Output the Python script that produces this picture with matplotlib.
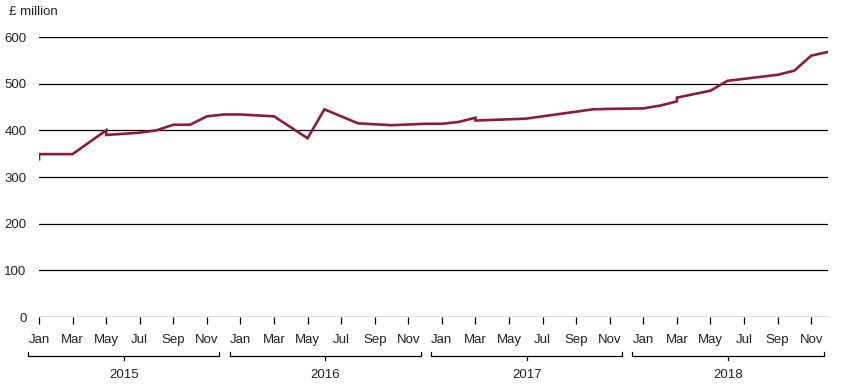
import matplotlib
matplotlib.use("Agg")
import matplotlib.pyplot as plt
import matplotlib.transforms as mtransforms

plt.rcParams['font.family'] = ['Liberation Sans', 'DejaVu Sans']

# data: month index (0 = Jan 2015), value in £ million
months = [0, 0, 2, 4, 4, 6, 7, 8, 9, 10, 11, 12, 14, 16, 17, 19, 21, 23, 24, 25,
          26, 26, 29, 33, 34, 36, 37, 38, 38, 40, 41, 44, 45, 46, 47]
values = [338, 349, 349, 400, 390, 395, 400, 412, 412, 430, 434, 434, 430, 383, 445,
          415, 411, 414, 414, 418, 427, 421, 425, 445, 446, 447, 453, 462, 470, 485,
          506, 519, 528, 560, 568]

month_labels = ['Jan', 'Mar', 'May', 'Jul', 'Sep', 'Nov']
years = ['2015', '2016', '2017', '2018']
yticks = [0, 100, 200, 300, 400, 500, 600]

line_color = '#8c1c3e'

fig = plt.figure(figsize=(8.5, 3.89), dpi=100)
ax = fig.add_axes([39 / 850, 1 - 317 / 389, (828 - 39) / 850, 280 / 389])

ax.plot(months, values, color=line_color, lw=1.9, solid_joinstyle='miter', zorder=3)

ax.set_xlim(0, 47)
ax.set_ylim(0, 600)

for yv in yticks:
    ax.axhline(yv, color='black', lw=0.9, zorder=1)

for s in ax.spines.values():
    s.set_visible(False)

ax.set_yticks(yticks)
ax.set_yticklabels([str(v) for v in yticks])
ax.tick_params(axis='y', length=0, pad=9, labelsize=9.5, colors='#222222')

xt = [12 * i + 2 * k for i in range(len(years)) for k in range(len(month_labels))]
ax.set_xticks(xt)
ax.set_xticklabels(month_labels * len(years))
ax.tick_params(axis='x', direction='out', length=5, width=0.9, color='black',
               pad=7, labelsize=9.5, labelcolor='#222222')

# year brackets
trans = mtransforms.blended_transform_factory(ax.transData, ax.transAxes)
for i, yr in enumerate(years):
    x0 = 12 * i - 0.65
    x1 = 12 * i + 10.75
    xc = (x0 + x1) / 2
    ax.plot([x0, x0, x1, x1], [-0.125, -0.139, -0.139, -0.125], color='black',
            lw=0.9, transform=trans, clip_on=False)
    ax.plot([xc, xc], [-0.139, -0.154], color='black', lw=0.9,
            transform=trans, clip_on=False)
    ax.text(xc, -0.207, yr, transform=trans, ha='center', va='center',
            fontsize=9.5, color='#222222')

fig.text(9 / 850, 1 - 12 / 389, '£ million', ha='left', va='center',
         fontsize=9.5, color='#222222')

fig.savefig('out.png', dpi=100)
